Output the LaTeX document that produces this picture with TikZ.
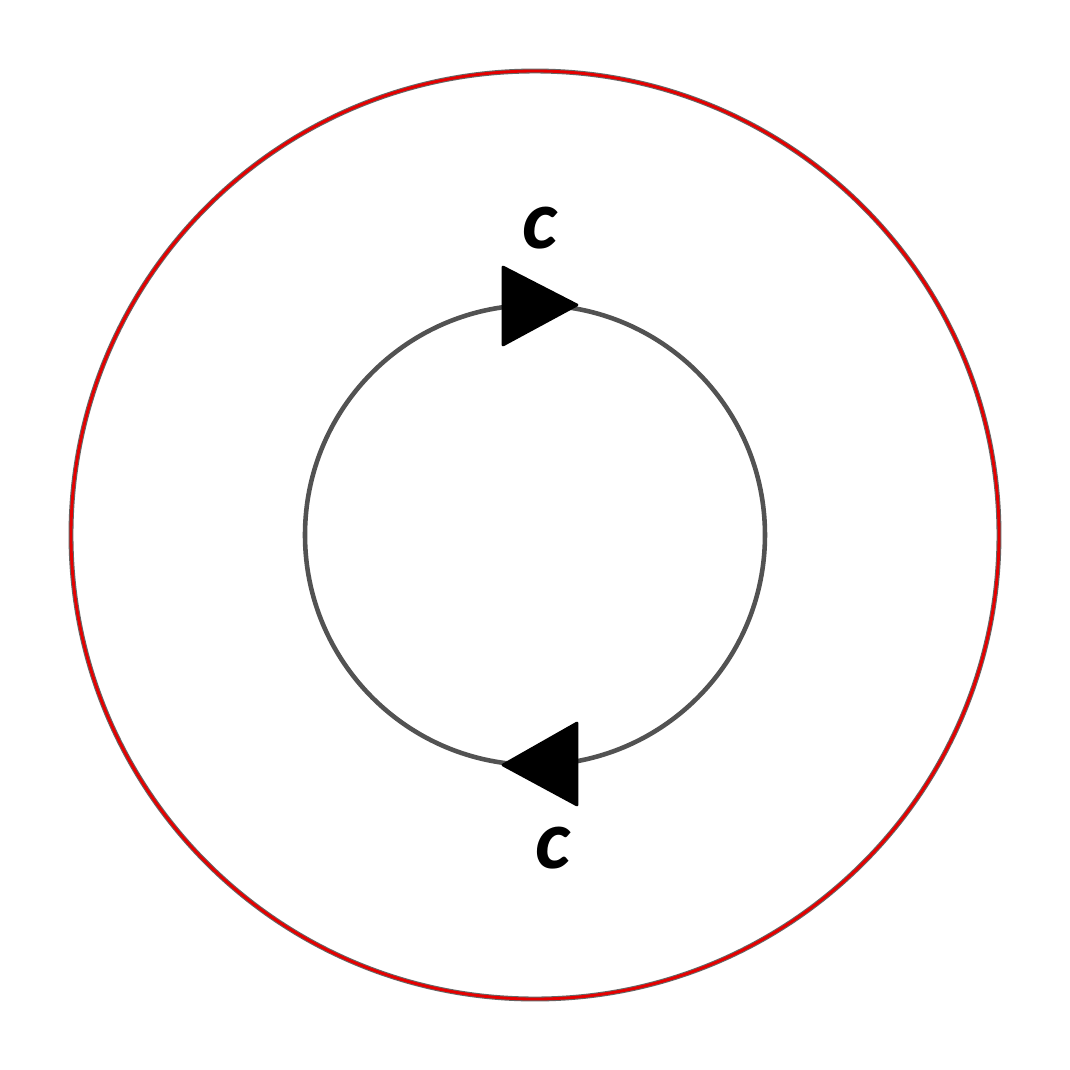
\documentclass[tikz,border=0pt]{standalone}
\usepackage{fontspec}
\newfontfamily\labelfont{Carlito}
\tikzset{
  outerring/.style={draw=black!60, line width=1.4pt},
  outerred/.style={draw=red!90!black, line width=0.8pt},
  innerring/.style={draw=black!68, line width=1.3pt},
  arrowtri/.style={fill=black, draw=black, line width=0.8pt, line join=round},
  clabel/.style={font=\labelfont\bfseries\itshape\fontsize{24}{24}\selectfont, inner sep=0pt}
}
\begin{document}
\begin{tikzpicture}
\useasboundingbox[fill=white] (-5.35,-5.35) rectangle (5.35,5.35);
\coordinate (O) at (0,0);
\draw[outerring] (O) circle (4.64);
\draw[outerred] (O) circle (4.64);
\draw[innerring] (O) circle (2.30);
\draw[arrowtri] (-0.32,2.68) -- (-0.32,1.90) -- (0.42,2.30) -- cycle;
\draw[arrowtri] (0.42,-1.88) -- (0.42,-2.70) -- (-0.32,-2.30) -- cycle;
\node[clabel] (ctop) at (0.05,3.07) {c};
\node[clabel] (cbot) at (0.18,-3.13) {c};
\end{tikzpicture}
\end{document}
